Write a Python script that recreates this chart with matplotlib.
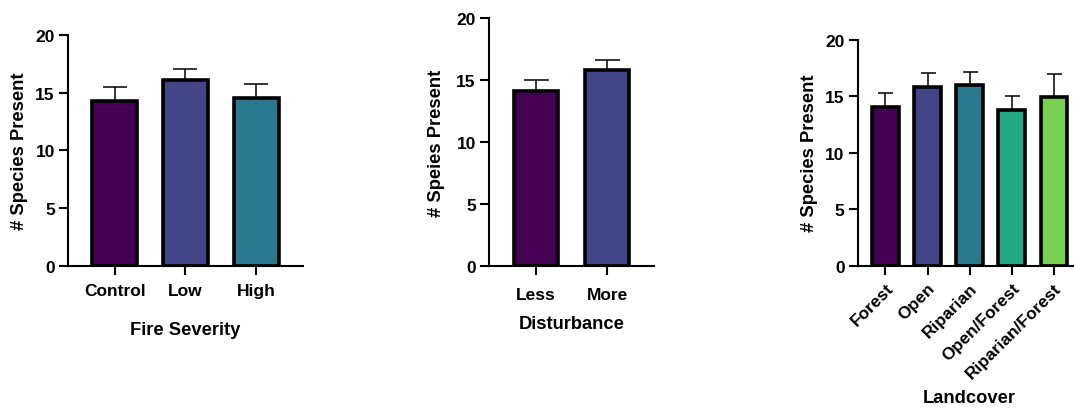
import matplotlib
matplotlib.use("Agg")
import matplotlib.pyplot as plt

plt.rcParams['font.family'] = ['Liberation Sans', 'DejaVu Sans']
plt.rcParams['font.weight'] = 'bold'

# Data
fire_cats = ["Control", "Low", "High"]
fire_means = [14.3, 16.1, 14.55]
fire_err = [1.2, 0.95, 1.2]

dist_cats = ["Less", "More"]
dist_means = [14.1, 15.8]
dist_err = [0.95, 0.85]

land_cats = ["Forest", "Open", "Riparian", "Open/Forest", "Riparian/Forest"]
land_means = [14.07, 15.8, 15.95, 13.78, 14.9]
land_err = [1.2, 1.25, 1.22, 1.26, 2.1]

colors = ["#440154", "#414487", "#2A788E", "#22A884", "#7AD151"]

fig = plt.figure(figsize=(10.74, 4.10), dpi=100)

def panel(rect, cats, means, errs, ylabel, xlabel, capsize, rotate=False,
          xlabelpad=4, ylabelpad=4, xpad=6):
    ax = fig.add_axes(rect)
    x = list(range(len(cats)))
    ax.errorbar(x, means, yerr=[[0]*len(errs), errs], fmt='none', ecolor='black',
                elinewidth=1.1, capsize=capsize, capthick=1.1, zorder=1)
    ax.bar(x, means, width=0.63, color=colors[:len(cats)], edgecolor='black',
           linewidth=2.6, zorder=2)
    ax.set_xlim(-0.66, len(cats) - 1 + 0.66)
    ax.set_ylim(0, 20)
    ax.set_yticks([0, 5, 10, 15, 20])
    ax.set_xticks(x)
    if rotate:
        ax.set_xticklabels(cats, rotation=45, ha='right', rotation_mode='anchor')
    else:
        ax.set_xticklabels(cats)
    for s in ['top', 'right']:
        ax.spines[s].set_visible(False)
    for s in ['left', 'bottom']:
        ax.spines[s].set_linewidth(1.5)
    ax.tick_params(axis='both', width=1.5, length=6.5, labelsize=12.5, pad=3)
    ax.tick_params(axis='x', pad=xpad)
    for lab in ax.get_xticklabels() + ax.get_yticklabels():
        lab.set_fontweight('bold')
    ax.set_ylabel(ylabel, fontsize=13.2, fontweight='bold', labelpad=ylabelpad)
    ax.set_xlabel(xlabel, fontsize=13.2, fontweight='bold', labelpad=xlabelpad)
    return ax

panel([0.0633, 0.3488, 0.2188, 0.5634], fire_cats, fire_means, fire_err,
      "# Species Present", "Fire Severity", capsize=8.6, xlabelpad=16, ylabelpad=5, xpad=6)
panel([0.4553, 0.3495, 0.1536, 0.6034], dist_cats, dist_means, dist_err,
      "# Speies Present", "Disturbance", capsize=9, xlabelpad=9, ylabelpad=8, xpad=9)
panel([0.7986, 0.3495, 0.2085, 0.5512], land_cats, land_means, land_err,
      "# Species Present", "Landcover", capsize=5.4, rotate=True, xlabelpad=6,
      ylabelpad=5, xpad=4)

fig.savefig("out.png", dpi=100)
